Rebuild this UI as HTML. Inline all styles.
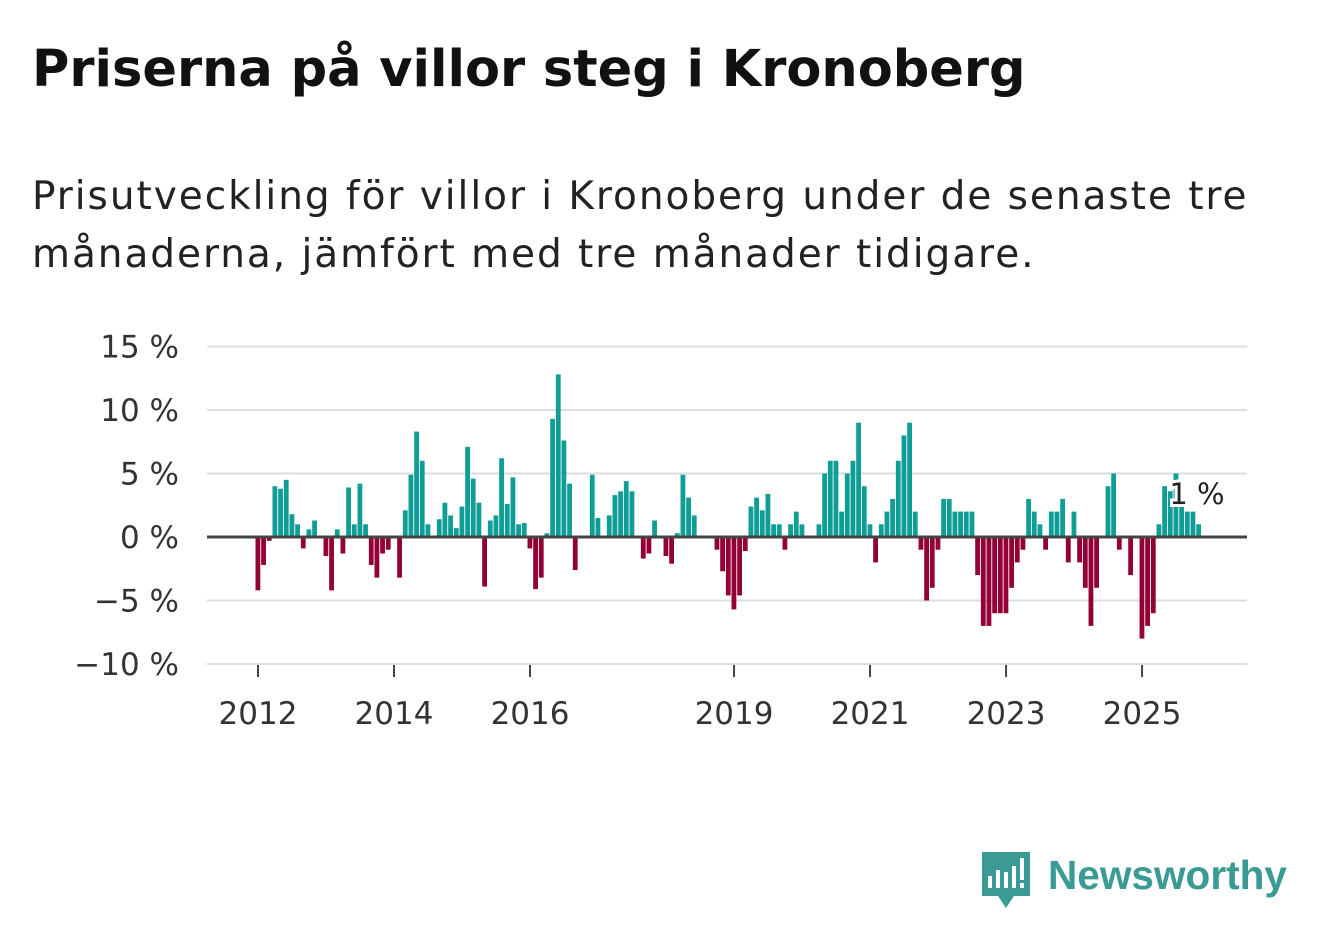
<!DOCTYPE html>
<html><head><meta charset="utf-8">
<style>
body{margin:0;width:1322px;height:939px;background:#fff;font-family:"Liberation Sans",sans-serif;overflow:hidden;position:relative}
#title{position:absolute;left:32px;top:40px;font-family:"DejaVu Sans",sans-serif;font-size:51px;font-weight:bold;color:#111;letter-spacing:0px;white-space:nowrap}
#sub{position:absolute;left:32px;top:168px;font-family:"DejaVu Sans",sans-serif;font-size:39px;line-height:58px;color:#222;width:1280px;letter-spacing:1.95px}
svg{position:absolute;left:0;top:0}
</style></head><body>
<div id="title">Priserna på villor steg i Kronoberg</div>
<div id="sub">Prisutveckling för villor i Kronoberg under de senaste tre<br>månaderna, jämfört med tre månader tidigare.</div>
<svg id="chart" width="1322" height="939"></svg>
<script>
const values=[-4.2,-2.2,-0.3,4.0,3.8,4.5,1.8,1.0,-0.9,0.6,1.3,0,-1.5,-4.2,0.6,-1.3,3.9,1.0,4.2,1.0,-2.2,-3.2,-1.3,-1.0,0,-3.2,2.1,4.9,8.3,6.0,1.0,0,1.4,2.7,1.7,0.7,2.4,7.1,4.6,2.7,-3.9,1.3,1.7,6.2,2.6,4.7,1.0,1.1,-0.9,-4.1,-3.2,0.3,9.3,12.8,7.6,4.2,-2.6,0.1,0,4.9,1.5,0,1.7,3.3,3.6,4.4,3.6,0.1,-1.7,-1.3,1.3,0,-1.5,-2.1,0.3,4.9,3.1,1.7,0,0.1,0,-1.0,-2.7,-4.6,-5.7,-4.6,-1.1,2.4,3.1,2.1,3.4,1.0,1.0,-1.0,1.0,2.0,1.0,0,0,1.0,5.0,6.0,6.0,2.0,5.0,6.0,9.0,4.0,1.0,-2.0,1.0,2.0,3.0,6.0,8.0,9.0,2.0,-1.0,-5.0,-4.0,-1.0,3.0,3.0,2.0,2.0,2.0,2.0,-3.0,-7.0,-7.0,-6.0,-6.0,-6.0,-4.0,-2.0,-1.0,3.0,2.0,1.0,-1.0,2.0,2.0,3.0,-2.0,2.0,-2.0,-4.0,-7.0,-4.0,0,4.0,5.0,-1.0,0,-3.0,0,-8.0,-7.0,-6.0,1.0,4.0,3.6,5.0,3.0,2.0,2.0,1.0];
const yTicks=[15,10,5,0,-5,-10];
const yTickLabels=["15 %","10 %","5 %","0 %","−5 %","−10 %"];
const xTickIdx=[0,24,48,84,108,132,156];
const xTickLabels=["2012","2014","2016","2019","2021","2023","2025"];
const NS="http://www.w3.org/2000/svg";
const svg=document.getElementById('chart');
const y=v=>537-v*12.7;
const x=i=>258+i*5.667;
function mk(t,a){const e=document.createElementNS(NS,t);for(const k in a)e.setAttribute(k,a[k]);svg.appendChild(e);return e;}
yTicks.forEach((t,i)=>{
 if(t!==0){const l=mk('line',{x1:207,x2:1247,y1:y(t),y2:y(t),stroke:'#ddd','stroke-width':2});
 
 }
 const tx=mk('text',{x:179,y:y(t)+11,'text-anchor':'end','font-size':31,fill:'#333','font-family':'DejaVu Sans, sans-serif'});
 tx.textContent=yTickLabels[i];
 
 
});
values.forEach((v,i)=>{
 const r=mk('rect',{x:x(i)-2.5,width:4.8,y:Math.min(y(v),537),height:Math.abs(y(v)-537),fill:v>=0?'#0f9e95':'#930035'});
 
 
});
const zl=mk('line',{x1:207,x2:1247,y1:537,y2:537,stroke:'#444','stroke-width':3});


xTickIdx.forEach((ix,i)=>{
 const tk=mk('line',{x1:x(ix),x2:x(ix),y1:665,y2:677,stroke:'#444','stroke-width':2});
 
 
 const tx=mk('text',{x:x(ix),y:724,'text-anchor':'middle','font-size':31,fill:'#333','font-family':'DejaVu Sans, sans-serif'});
 tx.textContent=xTickLabels[i];
 
 
});
const last=values[values.length-1];
const lb=mk('text',{x:1197,y:504,'text-anchor':'middle','font-size':29,fill:'#222',stroke:'#fff','stroke-width':6,'paint-order':'stroke','font-family':'DejaVu Sans, sans-serif'});
lb.textContent=Math.round(last)+" %";


</script>
<svg width="1322" height="939" style="pointer-events:none">
 <path d="M982 852 h48 v44 h-16 l-8 12 l-8 -12 h-16 z" fill="#3a9a94"/>
 <rect x="988" y="876" width="4" height="12" fill="#fff"/>
 <rect x="996" y="870" width="4" height="18" fill="#fff"/>
 <rect x="1004" y="872" width="4" height="16" fill="#fff"/>
 <rect x="1012" y="866" width="4" height="22" fill="#fff"/>
 <rect x="1020" y="858" width="4" height="22" fill="#fff"/>
 <rect x="1020" y="883" width="4" height="5" fill="#fff"/>
 <text x="1048" y="889" font-size="41" font-weight="bold" fill="#3a9a94" textLength="239" lengthAdjust="spacingAndGlyphs" font-family="Liberation Sans, sans-serif">Newsworthy</text>
</svg>
</body></html>
